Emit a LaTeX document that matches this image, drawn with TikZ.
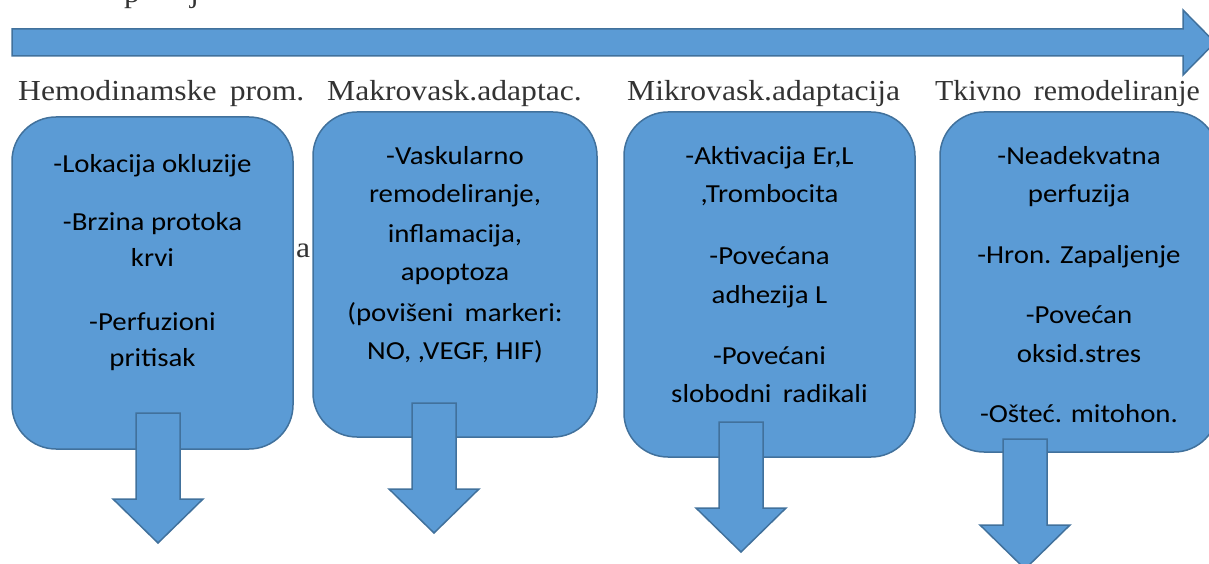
\documentclass[tikz,border=0pt]{standalone}
\usepackage{fontspec}
\setmainfont{Liberation Serif}
\newfontfamily\boxfont{Carlito}
\definecolor{fillblue}{HTML}{5B9BD5}
\definecolor{lineblue}{HTML}{41719C}
\newcommand\hx[1]{\scalebox{1.09}[1]{#1}}
\newcommand\bx[1]{\scalebox{1.11}[1]{#1}}
\begin{document}
\begin{tikzpicture}[x=1pt,y=-1pt,
  blockfill/.style={fill=fillblue,draw=lineblue,line width=1.5pt,line join=miter},
  stage/.style={blockfill,rectangle,rounded corners=44pt,inner sep=0pt},
  head/.style={font=\fontsize{29}{34}\selectfont,anchor=base west,inner sep=0pt,text=black!80},
  item/.style={font=\boxfont\fontsize{26}{30}\selectfont,anchor=base,inner sep=0pt,text=black},
  pics/blockdown/.style={code={
    \draw[blockfill] (-22,0) -- (22,0) -- (22,86) -- (45,86) -- (0,130) -- (-45,86) -- (-22,86) -- cycle;}}]
\useasboundingbox (0,0) rectangle (1209,564);

% fragments of a cut-off text line at the top edge
\node[head] (frag1) at (124,3) {\hx{p}};
\node[head] (frag2) at (190,3) {\hx{j}};

% top timeline arrow
\draw[blockfill] (12,29) -- (1183,29) -- (1183,10) -- (1215,42.5) -- (1183,75) -- (1183,56) -- (12,56) -- cycle;

% headers
\node[head] (h1) at (18,101) {\hx{Hemodinamske\, prom.}};
\node[head] (h2) at (327,101) {\hx{Makrovask.adaptac.}};
\node[head] (h3) at (627,101) {\hx{Mikrovask.adaptacija}};
\node[head] (h4) at (935,101) {\scalebox{1.03}[1]{Tkivno\, remodeliranje}};

% stray letter behind the boxes
\node[head] (stray) at (296,257) {\hx{a}};

% stage boxes
\node[stage,minimum width=281pt,minimum height=332pt] (b1) at (152.5,283) {};
\node[stage,minimum width=284pt,minimum height=325pt] (b2) at (455,274.5) {};
\node[stage,minimum width=291pt,minimum height=345pt] (b3) at (769.5,284.5) {};
\node[stage,minimum width=278pt,minimum height=340pt] (b4) at (1079,282) {};

% box texts
\foreach \y/\t [count=\i] in {172/{-Lokacija okluzije},230/{-Brzina protoka},266/{krvi},330/{-Perfuzioni},366/{pritisak}}
  \node[item] (ta\i) at (152.5,\y) {\bx{\t}};
\foreach \y/\t [count=\i] in {165/{-Vaskularno},203/{remodeliranje,},242/{inflamacija,},280/{apoptoza},321/{(povišeni\, markeri:},359/{NO, ,VEGF, HIF)}}
  \node[item] (tb\i) at (455,\y) {\bx{\t}};
\foreach \y/\t [count=\i] in {165/{-Aktivacija Er,L},203/{,Trombocita},264/{-Povećana},303/{adhezija L},364/{-Povećani},402/{slobodni\, radikali}}
  \node[item] (tc\i) at (769.5,\y) {\bx{\t}};
\foreach \y/\t [count=\i] in {165/{-Neadekvatna},202/{perfuzija},263/{-Hron. Zapaljenje},323/{-Povećan},362/{oksid.stres},422/{-Ošteć. mitohon.}}
  \node[item] (td\i) at (1079,\y) {\bx{\t}};

% down arrows
\pic at (158,413) {blockdown};
\pic at (434,403) {blockdown};
\pic at (741,422) {blockdown};
\pic at (1025,439) {blockdown};
\end{tikzpicture}
\end{document}
